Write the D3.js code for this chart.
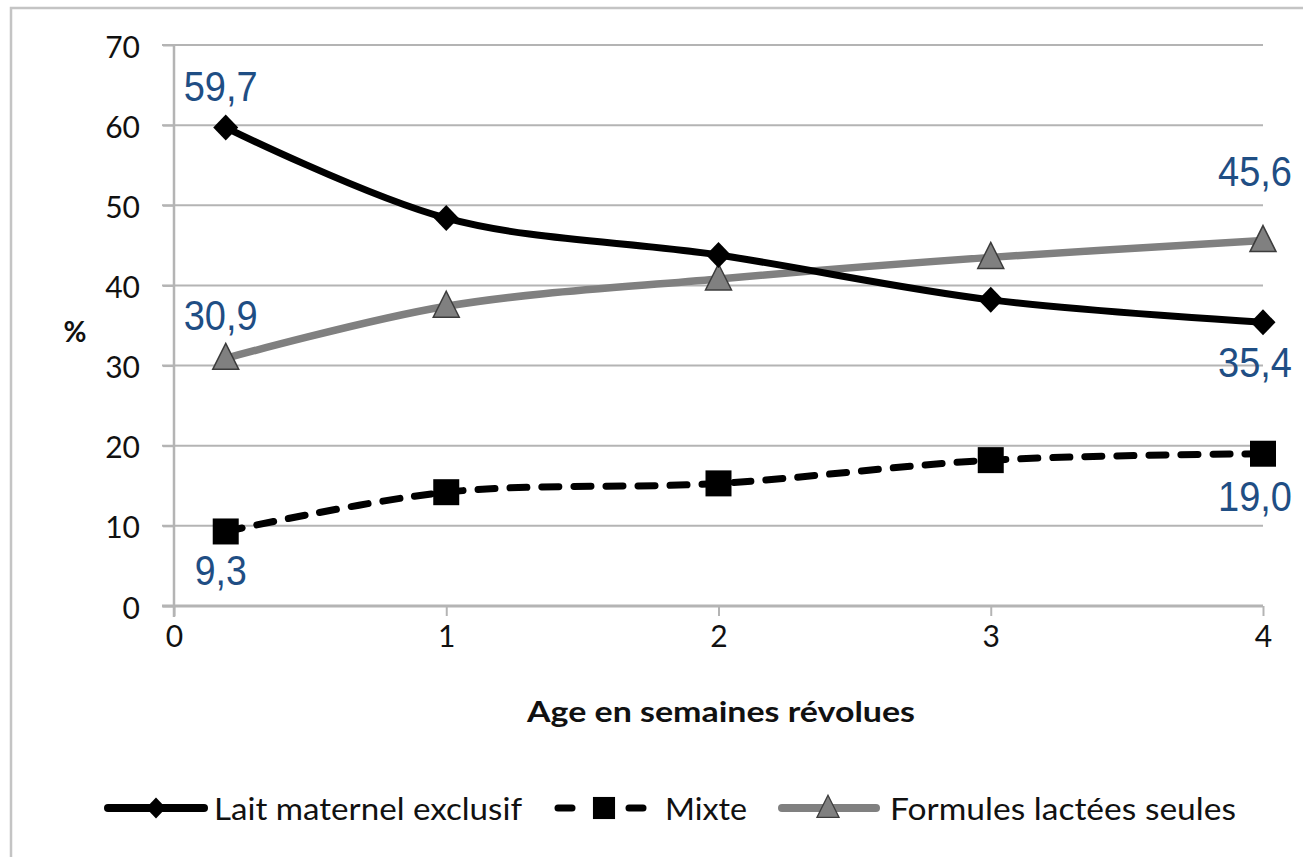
<!DOCTYPE html>
<html><head><meta charset="utf-8">
<script src="https://cdn.jsdelivr.net/npm/d3@7"></script>
<style>
html,body{margin:0;padding:0;background:#fff;}
svg{display:block;}
</style></head>
<body>
<svg id="c" width="1303" height="857"></svg>
<script>
const ages = [0.19, 1, 2, 3, 4];
const laitMaternel = [59.7, 48.4, 43.8, 38.2, 35.4];
const mixte = [9.3, 14.2, 15.3, 18.2, 19.0];
const formules = [30.9, 37.4, 40.8, 43.5, 45.6];
const yTicks = [0, 10, 20, 30, 40, 50, 60, 70];
const xTicks = [0, 1, 2, 3, 4];
const seriesNames = ["Lait maternel exclusif", "Mixte", "Formules lactées seules"];
const labelFirst = ["59,7", "9,3", "30,9"];
const labelLast = ["35,4", "19,0", "45,6"];

const svg = d3.select("#c");
const x = d3.scaleLinear().domain([0, 4]).range([174, 1263]);
const y = d3.scaleLinear().domain([0, 70]).range([606, 45]);
const uiFont = "Lato, 'Open Sans', sans-serif";

// outer frame
svg.append("rect").attr("x", 11).attr("y", 8).attr("width", 1400).attr("height", 1000)
  .attr("fill", "none").attr("stroke", "#c4c4c4").attr("stroke-width", 2.5);

// gridlines
svg.append("g").selectAll("line").data(yTicks.filter(d => d > 0)).join("line")
  .attr("x1", 162).attr("x2", x(4)).attr("y1", d => y(d)).attr("y2", d => y(d))
  .attr("stroke", "#b4b4b4").attr("stroke-width", 2);

// y axis
const yAxis = d3.axisLeft(y).tickValues(yTicks).tickSize(11).tickPadding(23).tickFormat(d3.format("d"));
const gy = svg.append("g").attr("transform", `translate(${x(0)},0)`).call(yAxis);
gy.select(".domain").attr("stroke", "#b4b4b4").attr("stroke-width", 2.5).attr("d", `M0,${y(70)}V${y(0) + 11}`);
gy.selectAll(".tick line").attr("stroke", "#b4b4b4").attr("stroke-width", 2);
gy.selectAll(".tick text").attr("font-family", uiFont).attr("font-size", 30)
  .attr("fill", "#111").attr("dy", "0.4em");

// x axis
const xAxis = d3.axisBottom(x).tickValues(xTicks).tickSize(10).tickPadding(10).tickFormat(d3.format("d"));
const gx = svg.append("g").attr("transform", `translate(0,${y(0)})`).call(xAxis);
gx.select(".domain").attr("stroke", "#b4b4b4").attr("stroke-width", 3).attr("d", `M${x(0) - 12},0H${x(4)}`);
gx.selectAll(".tick line").attr("stroke", "#b4b4b4").attr("stroke-width", 2);
gx.selectAll(".tick text").attr("font-family", uiFont).attr("font-size", 30)
  .attr("fill", "#111");

// axis titles
svg.append("text").attr("x", 721).attr("y", 722).attr("text-anchor", "middle")
  .attr("font-family", uiFont).attr("font-weight", "bold").attr("font-size", 29)
  .attr("textLength", 388).attr("lengthAdjust", "spacingAndGlyphs")
  .attr("fill", "#111").text("Age en semaines révolues");
svg.append("text").attr("x", 75).attr("y", 342).attr("text-anchor", "middle")
  .attr("font-family", uiFont).attr("font-weight", "bold").attr("font-size", 28)
  .attr("fill", "#111").text("%");

const curve = d3.curveCatmullRom.alpha(0.5);
const line = d3.line().x((d, i) => x(ages[i])).y(d => y(d)).curve(curve);

const styles = [
  {data: laitMaternel, stroke: "#000", width: 7, dash: null, marker: "diamond", fill: "#000", mstroke: "#000"},
  {data: mixte, stroke: "#000", width: 7, dash: "17,15", marker: "square", fill: "#000", mstroke: "#000"},
  {data: formules, stroke: "#808080", width: 7.5, dash: null, marker: "triangle", fill: "#808080", mstroke: "#3c3c3c"}
];

function markerPath(type) {
  if (type === "diamond") return "M0,-13L12.5,0L0,13L-12.5,0Z";
  if (type === "square") return "M-13,-13H13V13H-13Z";
  return "M0,-15L13,11H-13Z";
}

// draw in order: formules, lait, mixte
[2, 0, 1].forEach(k => {
  const s = styles[k];
  svg.append("path").datum(s.data).attr("d", line).attr("fill", "none")
    .attr("stroke", s.stroke).attr("stroke-width", s.width)
    .attr("stroke-dasharray", s.dash).attr("stroke-linecap", s.dash ? "round" : "butt");
});
[2, 0, 1].forEach(k => {
  const s = styles[k];
  svg.append("g").selectAll("path").data(s.data).join("path")
    .attr("transform", (d, i) => `translate(${x(ages[i])},${y(d)})`)
    .attr("d", markerPath(s.marker)).attr("fill", s.fill)
    .attr("stroke", s.mstroke).attr("stroke-width", s.marker === "triangle" ? 1.5 : 0);
});

// data labels
const lblFont = "'Liberation Sans Narrow', 'Arial Narrow', 'Liberation Sans', sans-serif";
const firstOffsets = [-27, 54, -28];
const lastOffsets = [55, 57, -55];
function addLabel(xp, yp, txt, anchor) {
  svg.append("text").attr("x", xp).attr("y", yp)
    .attr("text-anchor", anchor).attr("font-family", lblFont).attr("font-size", 43)
    .attr("textLength", txt.length === 4 ? 74 : 52).attr("lengthAdjust", "spacingAndGlyphs")
    .attr("fill", "#1f4e84").text(txt);
}
[0, 1, 2].forEach(k => {
  const s = styles[k];
  addLabel(x(ages[0]) - 5, y(s.data[0]) + firstOffsets[k], labelFirst[k], "middle");
  addLabel(x(ages[4]) + 29, y(s.data[4]) + lastOffsets[k], labelLast[k], "end");
});

// legend
const legY = 808;
const legItems = [
  {k: 0, x1: 108, x2: 204, mx: 156, tx: 214, tw: 308, ms: 0.8},
  {k: 1, x1: 558, x2: 643, mx: 604, tx: 665, tw: 82, ms: 0.85},
  {k: 2, x1: 782, x2: 876, mx: 828, tx: 890, tw: 346, ms: 0.85}
];
legItems.forEach(it => {
  const s = styles[it.k];
  const g = svg.append("g");
  if (s.dash) {
    g.append("line").attr("x1", it.x1).attr("x2", it.x1 + 14).attr("y1", legY).attr("y2", legY)
      .attr("stroke", s.stroke).attr("stroke-width", 7).attr("stroke-linecap", "round");
    g.append("line").attr("x1", it.x2 - 14).attr("x2", it.x2).attr("y1", legY).attr("y2", legY)
      .attr("stroke", s.stroke).attr("stroke-width", 7).attr("stroke-linecap", "round");
  } else {
    g.append("line").attr("x1", it.x1).attr("x2", it.x2).attr("y1", legY).attr("y2", legY)
      .attr("stroke", s.stroke).attr("stroke-width", 8).attr("stroke-linecap", "round");
  }
  g.append("path").attr("transform", `translate(${it.mx},${legY}) scale(${it.ms})`)
    .attr("d", markerPath(s.marker)).attr("fill", s.fill)
    .attr("stroke", s.mstroke).attr("stroke-width", s.marker === "triangle" ? 1.5 : 0);
  g.append("text").attr("x", it.tx).attr("y", legY + 12)
    .attr("font-family", uiFont).attr("font-size", 30).attr("fill", "#111")
    .attr("textLength", it.tw).attr("lengthAdjust", "spacingAndGlyphs")
    .text(seriesNames[it.k]);
});
</script>
</body></html>
